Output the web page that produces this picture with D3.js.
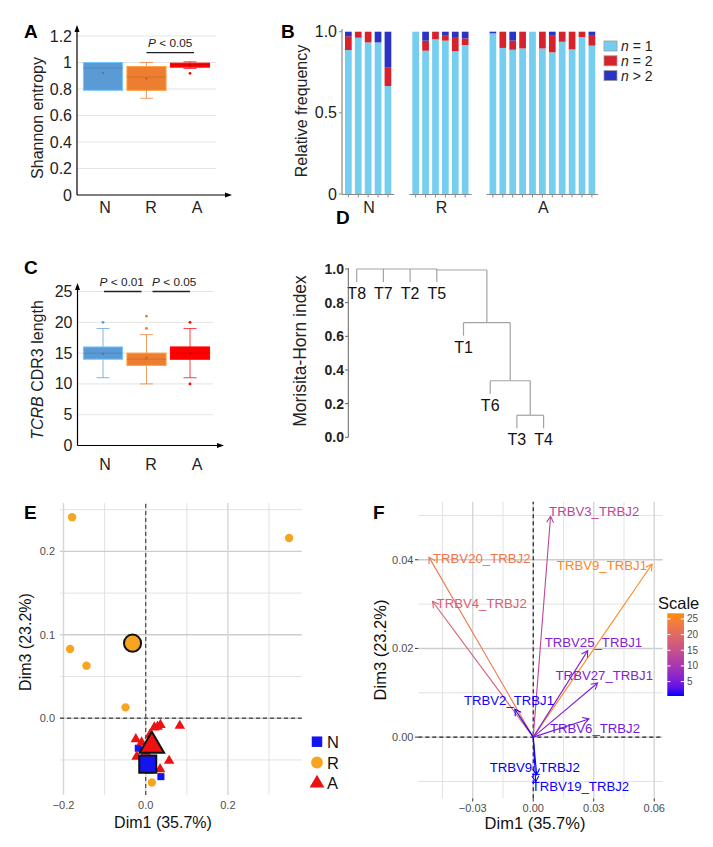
<!DOCTYPE html>
<html><head><meta charset="utf-8">
<script src="https://cdn.jsdelivr.net/npm/d3@7"></script>
<style>body{margin:0;background:#fff} svg{font-family:"Liberation Sans", Arial, Helvetica, sans-serif}</style>
</head><body><svg id="c" width="713" height="847"></svg>
<script>
// ---------------- DATA ----------------
const groups = ["N", "R", "A"];
// A: Shannon entropy (box stats)
const entropyMin = [0.79, 0.73, 0.955];
const entropyQ1 = [0.79, 0.79, 0.965];
const entropyMedian = [0.958, 0.89, 0.985];
const entropyQ3 = [1.0, 0.97, 0.995];
const entropyMax = [1.0, 1.0, 1.005];
const entropyMean = [0.92, 0.88, 0.98];
const entropyOutliers = [[], [], [0.918]];
const entropyTicks = [0, 0.2, 0.4, 0.6, 0.8, 1, 1.2];
const entropyP = ["R", "A", "P < 0.05", 1.075];

// B: relative frequency of clone sizes per sample
const freqGroup = ["N","N","N","N","N","R","R","R","R","R","R","A","A","A","A","A","A","A","A","A","A","A"];
const freqN1 = [0.887,0.963,0.934,0.934,0.665, 1.0,0.883,0.953,0.945,0.88,0.918, 0.99,0.90,0.889,0.897,1.0,0.897,0.873,0.938,0.891,0.967,0.914];
const freqN2 = [0.085,0.037,0.066,0.0,0.113, 0.0,0.062,0.047,0.03,0.082,0.041, 0.0,0.10,0.056,0.103,0.0,0.103,0.102,0.062,0.109,0.033,0.066];
const freqN3 = [0.028,0.0,0.0,0.066,0.222, 0.0,0.055,0.0,0.025,0.038,0.041, 0.01,0.0,0.055,0.0,0.0,0.0,0.025,0.0,0.0,0.0,0.02];
const freqTicks = [0, 0.5, 1.0];
const freqLegend = ["n = 1", "n = 2", "n > 2"];

// C: TCRB CDR3 length (box stats)
const cdrMin = [11, 10, 11];
const cdrQ1 = [14, 13, 14];
const cdrMedian = [15, 14, 15];
const cdrQ3 = [16, 15, 16];
const cdrMax = [19, 18, 19];
const cdrMean = [14.9, 14.2, 14.9];
const cdrOutliers = [[20], [19, 21], [10, 20]];
const cdrTicks = [0, 5, 10, 15, 20, 25];
const cdrP = [["N", "R", "P < 0.01", 25], ["R", "A", "P < 0.05", 25]];

// D: dendrogram (Morisita-Horn)
const leaves = ["T8", "T7", "T2", "T5", "T1", "T6", "T3", "T4"];
const merges = [
  { id: "c1", children: ["T8", "T7", "T2", "T5"], height: 1.0 },
  { id: "c2", children: ["T3", "T4"], height: 0.131 },
  { id: "c3", children: ["T6", "c2"], height: 0.336 },
  { id: "c4", children: ["T1", "c3"], height: 0.681 },
  { id: "root", children: ["c1", "c4"], height: 0.994 }
];
const mhTicks = [0, 0.2, 0.4, 0.6, 0.8, 1.0];

// E: PCoA sample coordinates (Dim1, Dim3)
const pcoaN = [[-0.018, -0.036], [0.037, -0.070], [0.0, -0.055], [0.01, -0.062], [-0.004, -0.052]];
const pcoaR = [[-0.179, 0.241], [0.349, 0.216], [-0.184, 0.083], [-0.144, 0.063], [-0.049, 0.013], [0.015, -0.077]];
const pcoaA = [[0.021, -0.011], [0.029, -0.010], [0.036, -0.008], [0.083, -0.009], [-0.024, -0.025], [-0.010, -0.029],
               [-0.022, -0.046], [0.057, -0.051], [0.035, -0.061], [0.010, -0.020], [0.0, -0.040]];
const pcoaCentroids = [["N", 0.005, -0.055], ["R", -0.032, 0.090], ["A", 0.015, -0.033]];
const eXTicks = [-0.2, 0.0, 0.2];
const eYTicks = [0.0, 0.1, 0.2];

// F: variable loadings
const genes = ["TRBV3_TRBJ2", "TRBV20_TRBJ2", "TRBV9_TRBJ1", "TRBV4_TRBJ2", "TRBV25_TRBJ1", "TRBV27_TRBJ1",
               "TRBV2_TRBJ1", "TRBV6_TRBJ2", "TRBV9_TRBJ2", "TRBV19_TRBJ2"];
const geneDim1 = [0.0086, -0.0517, 0.0589, -0.0499, 0.0270, 0.0319, -0.0091, 0.0276, 0.0017, 0.0012];
const geneDim3 = [0.0498, 0.0406, 0.0390, 0.0306, 0.0195, 0.0122, 0.0063, 0.0041, -0.0085, -0.0101];
const geneScale = [13, 22.5, 26, 18, 6, 6, 0.6, 4.5, 0.4, 0.5];
const fXTicks = [-0.03, 0.0, 0.03, 0.06];
const fYTicks = [0.0, 0.02, 0.04];
const scaleTicks = [5, 10, 15, 20, 25];

// ---------------- DRAWING ----------------
const svg = d3.select("#c");
const groupColors = { N: "#5b9bd5", R: "#ed7d31", A: "#ff0000" };

function panelLabel(t, x, y) {
  svg.append("text").attr("x", x).attr("y", y).attr("font-size", 19).attr("font-weight", "bold").text(t);
}
function italicFirst(sel, first, rest) {
  sel.append("tspan").attr("font-style", "italic").text(first);
  sel.append("tspan").text(rest);
}
function triangleHead(g, x, y, dir, color) {
  const s = 4;
  let p;
  if (dir === "up") p = [[x, y - 2], [x - s / 1.6, y + s + 1], [x + s / 1.6, y + s + 1]];
  else p = [[x + 2, y], [x - s - 1, y - s / 1.6], [x - s - 1, y + s / 1.6]];
  g.append("path").attr("d", d3.line()(p) + "Z").attr("fill", color);
}

// generic box plot panel
function boxPanel(opts) {
  const g = svg.append("g");
  const y = d3.scaleLinear().domain(opts.domain).range(opts.yRange);
  const x = d3.scaleBand().domain(groups).range([81.25, 211.75]);
  const xl = d3.scalePoint().domain(groups).range([105, 197]);
  const bw = x.bandwidth() * 0.9;
  g.selectAll(".grid").data(opts.ticks.filter(d => d > 0)).join("line")
    .attr("x1", opts.axisX).attr("x2", opts.gridEnd).attr("y1", d => y(d)).attr("y2", d => y(d))
    .attr("stroke", "#e4e4e4").attr("stroke-width", 1);
  groups.forEach((k, i) => {
    const c = groupColors[k];
    const cx = x(k) + x.bandwidth() / 2;
    const light = d3.color(c).copy({ opacity: 0.75 });
    [[opts.q3[i], opts.max[i]], [opts.q1[i], opts.min[i]]].forEach(([a, b]) => {
      if (Math.abs(a - b) < 1e-9) return;
      g.append("line").attr("x1", cx).attr("x2", cx).attr("y1", y(a)).attr("y2", y(b))
        .attr("stroke", light).attr("stroke-width", 1);
      g.append("line").attr("x1", cx - 6.5).attr("x2", cx + 6.5).attr("y1", y(b)).attr("y2", y(b))
        .attr("stroke", light).attr("stroke-width", 1);
    });
    g.append("rect").attr("x", cx - bw / 2).attr("width", bw)
      .attr("y", y(opts.q3[i])).attr("height", y(opts.q1[i]) - y(opts.q3[i]))
      .attr("fill", c).attr("stroke", d3.color(c).brighter(0.7)).attr("stroke-width", 1);
    g.append("line").attr("x1", cx - bw / 2).attr("x2", cx + bw / 2)
      .attr("y1", y(opts.median[i])).attr("y2", y(opts.median[i]))
      .attr("stroke", d3.color(c).darker(0.5)).attr("stroke-width", 0.8).attr("opacity", 0.8);
    g.append("circle").attr("cx", cx).attr("cy", y(opts.mean[i])).attr("r", 1.2)
      .attr("fill", d3.color(c).darker(0.6));
    opts.outliers[i].forEach(v => {
      g.append("circle").attr("cx", cx).attr("cy", y(v)).attr("r", 1.4).attr("fill", c);
    });
  });
  g.append("line").attr("x1", opts.axisX).attr("x2", opts.axisX).attr("y1", opts.yRange[0]).attr("y2", opts.yTop)
    .attr("stroke", "#000").attr("stroke-width", 1.2);
  triangleHead(g, opts.axisX, opts.yTop, "up", "#000");
  g.append("line").attr("x1", opts.axisX).attr("x2", opts.xEnd).attr("y1", opts.yRange[0]).attr("y2", opts.yRange[0])
    .attr("stroke", "#000").attr("stroke-width", 1.2);
  triangleHead(g, opts.xEnd, opts.yRange[0], "right", "#000");
  g.selectAll(".tl").data(opts.ticks).join("text")
    .attr("x", opts.axisX - 5).attr("y", d => y(d) + 5.5).attr("text-anchor", "end")
    .attr("font-size", 16).attr("fill", "#222").text(d => d3.format("~g")(d));
  g.selectAll(".xl").data(groups).join("text")
    .attr("x", d => xl(d)).attr("y", opts.xLabelY).attr("text-anchor", "middle")
    .attr("font-size", 16).attr("fill", "#222").text(d => d);
  opts.pvals.forEach(([a, b, txt, v], j) => {
    const ins = opts.pInset[j];
    const x1 = x(a) + x.bandwidth() / 2 + ins[0], x2 = x(b) + x.bandwidth() / 2 + ins[1];
    g.append("line").attr("x1", x1).attr("x2", x2).attr("y1", y(v)).attr("y2", y(v))
      .attr("stroke", "#222").attr("stroke-width", 1.3);
    const t = g.append("text").attr("x", (x1 + x2) / 2 + ins[2]).attr("y", y(v) - 6).attr("text-anchor", "middle")
      .attr("font-size", 11.8).attr("fill", "#222");
    italicFirst(t, "P", " < " + txt.split("< ")[1]);
  });
  return g;
}

// ---- Panel A ----
panelLabel("A", 24, 38);
boxPanel({
  domain: [0, 1.2], yRange: [195, 36], yTop: 27, axisX: 77, gridEnd: 216, xEnd: 230, xLabelY: 213,
  ticks: entropyTicks, min: entropyMin, q1: entropyQ1, median: entropyMedian, q3: entropyQ3, max: entropyMax,
  mean: entropyMean, outliers: entropyOutliers, pvals: [entropyP], pInset: [[0, 4, 0]]
});
svg.append("text").attr("transform", "translate(43,118) rotate(-90)").attr("text-anchor", "middle")
  .attr("font-size", 16).attr("fill", "#222").text("Shannon entropy");

// ---- Panel C ----
panelLabel("C", 24, 274);
boxPanel({
  domain: [0, 25], yRange: [445.5, 291.5], yTop: 285, axisX: 77.5, gridEnd: 213, xEnd: 222, xLabelY: 470,
  ticks: cdrTicks, min: cdrMin, q1: cdrQ1, median: cdrMedian, q3: cdrQ3, max: cdrMax,
  mean: cdrMean, outliers: cdrOutliers, pvals: cdrP, pInset: [[1, -5, -1], [6, 0, 3]]
});
{
  const t = svg.append("text").attr("transform", "translate(43,370) rotate(-90)").attr("text-anchor", "middle")
    .attr("font-size", 16).attr("fill", "#222");
  italicFirst(t, "TCRB", " CDR3 length");
}

// ---- Panel B ----
panelLabel("B", 281, 38);
{
  const g = svg.append("g");
  const y = d3.scaleLinear().domain([0, 1]).range([194, 31.7]);
  const gap = 1.8;
  const slots = [];
  let s = 0;
  freqGroup.forEach((gr, i) => {
    if (i > 0 && gr !== freqGroup[i - 1]) s += gap;
    slots.push(s);
    s += 1;
  });
  const x = d3.scaleLinear().domain([0, 1]).range([345, 354.9]);
  const bw = 6.7;
  const cols = ["#75cdf0", "#d7212b", "#2b33c6"];
  const stacks = freqN1.map((v, i) => [freqN1[i], freqN2[i], freqN3[i]]);
  stacks.forEach((vals, i) => {
    let base = 0;
    vals.forEach((v, j) => {
      if (v > 0) {
        g.append("rect").attr("x", x(slots[i])).attr("width", bw)
          .attr("y", y(base + v)).attr("height", y(base) - y(base + v))
          .attr("fill", cols[j]);
      }
      base += v;
    });
  });
  g.append("line").attr("x1", 342).attr("x2", 342).attr("y1", 194).attr("y2", 29).attr("stroke", "#8a8a8a").attr("stroke-width", 1.2);
  g.selectAll(".yt").data(freqTicks).join("line").attr("x1", 339).attr("x2", 342)
    .attr("y1", d => y(d)).attr("y2", d => y(d)).attr("stroke", "#8a8a8a");
  g.selectAll(".yl").data(freqTicks).join("text").attr("x", 337).attr("y", d => y(d) + 5.5)
    .attr("text-anchor", "end").attr("font-size", 16).attr("fill", "#222")
    .text(d => d === 0 ? "0" : d3.format(".1f")(d));
  groups.forEach(gr => {
    const idx = freqGroup.map((d, i) => d === gr ? i : -1).filter(i => i >= 0);
    const x0 = x(slots[idx[0]]) - 3, x1 = x(slots[idx[idx.length - 1]]) + bw + 3;
    g.append("line").attr("x1", gr === "N" ? 342 : x0).attr("x2", x1).attr("y1", 194.5).attr("y2", 194.5)
      .attr("stroke", "#8a8a8a").attr("stroke-width", 1.2);
    idx.forEach(i => {
      g.append("line").attr("x1", x(slots[i]) + bw / 2).attr("x2", x(slots[i]) + bw / 2)
        .attr("y1", 194.5).attr("y2", 197.5).attr("stroke", "#8a8a8a");
    });
    g.append("text").attr("x", (x0 + x1) / 2 + 1).attr("y", 213).attr("text-anchor", "middle")
      .attr("font-size", 16).attr("fill", "#222").text(gr);
  });
  svg.append("text").attr("transform", "translate(307,111) rotate(-90)").attr("text-anchor", "middle")
    .attr("font-size", 16).attr("fill", "#222").text("Relative frequency");
  freqLegend.forEach((t, i) => {
    const cy = 46 + i * 14.8;
    g.append("rect").attr("x", 604).attr("y", cy - 5).attr("width", 13).attr("height", 10)
      .attr("fill", cols[i]).attr("stroke", "#9a9a9a").attr("stroke-width", 0.8);
    const tx = g.append("text").attr("x", 621).attr("y", cy + 5).attr("font-size", 14).attr("fill", "#222");
    italicFirst(tx, t[0], t.slice(1));
  });
}

// ---- Panel D ----
panelLabel("D", 336, 224);
{
  const g = svg.append("g");
  const y = d3.scaleLinear().domain([0, 1]).range([437.3, 269]);
  const x = d3.scalePoint().domain(leaves).range([356.7, 543.6]);
  const lc = "#a3a3a3";
  const node = {};
  leaves.forEach(l => node[l] = { x: x(l), leaf: true });
  merges.forEach(m => {
    const xs = m.children.map(c => node[c].x);
    const nx = m.children.length > 2 ? xs[xs.length - 1] : (xs[0] + xs[xs.length - 1]) / 2;
    node[m.id] = { x: nx, h: m.height };
    g.append("line").attr("x1", d3.min(xs)).attr("x2", d3.max(xs)).attr("y1", y(m.height)).attr("y2", y(m.height))
      .attr("stroke", lc).attr("stroke-width", 1.2);
    m.children.forEach(c => {
      const ch = node[c];
      const bottom = ch.leaf ? y(m.height) + 13 : y(ch.h);
      g.append("line").attr("x1", ch.x).attr("x2", ch.x).attr("y1", y(m.height)).attr("y2", bottom)
        .attr("stroke", lc).attr("stroke-width", 1.2);
      if (ch.leaf) {
        g.append("text").attr("x", ch.x).attr("y", bottom + 17).attr("text-anchor", "middle")
          .attr("font-size", 16).attr("fill", "#111").text(c);
      }
    });
  });
  g.append("line").attr("x1", 348.3).attr("x2", 348.3).attr("y1", y(0)).attr("y2", y(1) - 1)
    .attr("stroke", "#666").attr("stroke-width", 1);
  g.selectAll(".t").data(mhTicks).join("line").attr("x1", 345).attr("x2", 348.3)
    .attr("y1", d => y(d)).attr("y2", d => y(d)).attr("stroke", "#666");
  g.selectAll(".tl").data(mhTicks).join("text").attr("x", 344).attr("y", d => y(d) + 5)
    .attr("text-anchor", "end").attr("font-size", 14).attr("font-weight", "bold").attr("fill", "#222")
    .text(d => d3.format(".1f")(d));
  svg.append("text").attr("transform", "translate(306,351) rotate(-90)").attr("text-anchor", "middle")
    .attr("font-size", 17.5).attr("fill", "#222").text("Morisita-Horn index");
}

function ggGrid(g, x, y, xMaj, xMin, yMaj, yMin) {
  const [x0, x1] = x.range(), [y0, y1] = y.range();
  yMin.forEach(v => g.append("line").attr("x1", x0).attr("x2", x1).attr("y1", y(v)).attr("y2", y(v)).attr("stroke", "#e2e2e2").attr("stroke-width", 1));
  xMin.forEach(v => g.append("line").attr("x1", x(v)).attr("x2", x(v)).attr("y1", y0).attr("y2", y1).attr("stroke", "#e2e2e2").attr("stroke-width", 1));
  yMaj.forEach(v => g.append("line").attr("x1", x0).attr("x2", x1).attr("y1", y(v)).attr("y2", y(v)).attr("stroke", "#cdcdcd").attr("stroke-width", 1.4));
  xMaj.forEach(v => g.append("line").attr("x1", x(v)).attr("x2", x(v)).attr("y1", y0).attr("y2", y1).attr("stroke", "#d6d6d6").attr("stroke-width", 1.4));
}
const minusFmt = f => v => d3.format(f)(v).replace("-", "\u2212");

// ---- Panel E ----
panelLabel("E", 24, 519);
{
  const g = svg.append("g");
  const x = d3.scaleLinear().domain([-0.2085, 0.3796]).range([60, 301.7]);
  const y = d3.scaleLinear().domain([-0.092, 0.258]).range([795, 503]);
  ggGrid(g, x, y, eXTicks, [-0.1, 0.1, 0.3], eYTicks, [-0.05, 0.05, 0.15, 0.25]);
  g.append("line").attr("x1", x(0)).attr("x2", x(0)).attr("y1", 795).attr("y2", 503).attr("stroke", "#555").attr("stroke-width", 1.3).attr("stroke-dasharray", "4,3");
  g.append("line").attr("x1", 60).attr("x2", 301.7).attr("y1", y(0)).attr("y2", y(0)).attr("stroke", "#555").attr("stroke-width", 1.3).attr("stroke-dasharray", "4,3");
  const eCol = { N: "#1414f0", R: "#f7a520", A: "#ee1111" };
  const shp = { N: d3.symbolSquare, R: d3.symbolCircle, A: d3.symbolTriangle };
  const small = { N: 50, R: 55, A: 48 };
  const big = { N: 290, R: 230, A: 260 };
  [["N", pcoaN], ["R", pcoaR], ["A", pcoaA]].forEach(([k, pts]) => {
    g.selectAll(null).data(pts).join("path")
      .attr("transform", d => `translate(${x(d[0])},${y(d[1])})`)
      .attr("d", d3.symbol().type(shp[k]).size(small[k])).attr("fill", eCol[k]);
  });
  pcoaCentroids.forEach(([k, cx, cy]) => {
    g.append("path").attr("transform", `translate(${x(cx)},${y(cy)})`)
      .attr("d", d3.symbol().type(shp[k]).size(big[k])).attr("fill", eCol[k])
      .attr("stroke", "#111").attr("stroke-width", 2);
  });
  g.selectAll(".xt").data(eXTicks).join("text").attr("x", d => x(d)).attr("y", 809)
    .attr("text-anchor", "middle").attr("font-size", 11).attr("fill", "#4d4d4d").text(minusFmt(".1f"));
  g.selectAll(".yt").data(eYTicks).join("text").attr("x", 55).attr("y", d => y(d) + 4)
    .attr("text-anchor", "end").attr("font-size", 11).attr("fill", "#4d4d4d").text(minusFmt(".1f"));
  g.append("text").attr("x", 163).attr("y", 828).attr("text-anchor", "middle").attr("font-size", 16).attr("fill", "#111").text("Dim1 (35.7%)");
  g.append("text").attr("transform", "translate(31,642) rotate(-90)").attr("text-anchor", "middle").attr("font-size", 16).attr("fill", "#111").text("Dim3 (23.2%)");
  groups.forEach((k, i) => {
    const cy = 741.7 + i * 20.8;
    g.append("path").attr("transform", `translate(317,${cy})`).attr("d", d3.symbol().type(shp[k]).size(k === "A" ? 95 : 110)).attr("fill", eCol[k]);
    g.append("text").attr("x", 327).attr("y", cy + 6).attr("font-size", 16.5).attr("fill", "#111").text(k);
  });
}

// ---- Panel F ----
panelLabel("F", 373, 519);
{
  const g = svg.append("g");
  const x = d3.scaleLinear().domain([-0.057, 0.0642]).range([418.3, 662.7]);
  const y = d3.scaleLinear().domain([-0.0138, 0.0531]).range([798.3, 501.7]);
  ggGrid(g, x, y, fXTicks, [-0.045, -0.015, 0.015, 0.045], fYTicks, [-0.01, 0.01, 0.03, 0.05]);
  g.append("line").attr("x1", x(0)).attr("x2", x(0)).attr("y1", 798.3).attr("y2", 501.7).attr("stroke", "#222").attr("stroke-width", 1.2).attr("stroke-dasharray", "4,3");
  g.append("line").attr("x1", 418.3).attr("x2", 662.7).attr("y1", y(0)).attr("y2", y(0)).attr("stroke", "#222").attr("stroke-width", 1.2).attr("stroke-dasharray", "4,3");
  const col = d3.scaleLinear().domain([0.4, 26.8]).range(["#0000ff", "#ff8c00"]).interpolate(d3.interpolateLab);
  const lab = [[-1.5, -5, "start"], [4, 1, "start"], [-5, 1, "end"], [4, 2, "start"], [-43, -8, "start"], [-42, -8, "start"],
               [-51, -9, "start"], [-39, 9, "start"], [-47, -8, "start"], [-4, 4.5, "start"]];
  genes.forEach((gn, i) => {
    const c = col(geneScale[i]);
    const x0 = x(0), y0 = y(0), x1 = x(geneDim1[i]), y1 = y(geneDim3[i]);
    g.append("line").attr("x1", x0).attr("y1", y0).attr("x2", x1).attr("y2", y1).attr("stroke", c).attr("stroke-width", 1.1);
    const a = Math.atan2(y1 - y0, x1 - x0), L = 7, w = Math.PI / 6;
    const p = [[x1 - L * Math.cos(a - w), y1 - L * Math.sin(a - w)], [x1, y1], [x1 - L * Math.cos(a + w), y1 - L * Math.sin(a + w)]];
    g.append("path").attr("d", d3.line()(p)).attr("fill", "none").attr("stroke", c).attr("stroke-width", 1.1);
  });
  genes.forEach((gn, i) => {
    const c = col(geneScale[i]);
    g.append("text").attr("x", x(geneDim1[i]) + lab[i][0]).attr("y", y(geneDim3[i]) + lab[i][1] + 4.7)
      .attr("text-anchor", lab[i][2]).attr("font-size", 13.2).attr("fill", c).text(gn);
  });
  g.selectAll(".xt").data(fXTicks).join("line").attr("x1", d => x(d)).attr("x2", d => x(d)).attr("y1", 798.3).attr("y2", 801.5).attr("stroke", "#333");
  g.selectAll(".yt").data(fYTicks).join("line").attr("x1", 415).attr("x2", 418.3).attr("y1", d => y(d)).attr("y2", d => y(d)).attr("stroke", "#333");
  g.selectAll(".xl").data(fXTicks).join("text").attr("x", d => x(d)).attr("y", 812)
    .attr("text-anchor", "middle").attr("font-size", 11).attr("fill", "#4d4d4d").text(minusFmt(".2f"));
  g.selectAll(".yl").data(fYTicks).join("text").attr("x", 413.5).attr("y", d => y(d) + 4)
    .attr("text-anchor", "end").attr("font-size", 11).attr("fill", "#4d4d4d").text(minusFmt(".2f"));
  g.append("text").attr("x", 535).attr("y", 829).attr("text-anchor", "middle").attr("font-size", 16.5).attr("fill", "#111").text("Dim1 (35.7%)");
  g.append("text").attr("transform", "translate(386,650) rotate(-90)").attr("text-anchor", "middle").attr("font-size", 16.5).attr("fill", "#111").text("Dim3 (23.2%)");
  const cb = d3.scaleLinear().domain([0.4, 26.8]).range([696, 613.3]);
  const defs = svg.append("defs");
  const lg = defs.append("linearGradient").attr("id", "cbg").attr("x1", 0).attr("x2", 0).attr("y1", 1).attr("y2", 0);
  d3.range(0, 1.0001, 0.1).forEach(t => lg.append("stop").attr("offset", t).attr("stop-color", col(0.4 + t * 26.4)));
  g.append("rect").attr("x", 667.3).attr("y", 613.3).attr("width", 16.7).attr("height", 82.7).attr("fill", "url(#cbg)");
  scaleTicks.forEach(v => {
    g.append("line").attr("x1", 667.3).attr("x2", 670.5).attr("y1", cb(v)).attr("y2", cb(v)).attr("stroke", "#fff");
    g.append("line").attr("x1", 680.8).attr("x2", 684).attr("y1", cb(v)).attr("y2", cb(v)).attr("stroke", "#fff");
    g.append("text").attr("x", 687).attr("y", cb(v) + 3.5).attr("font-size", 10).attr("fill", "#4d4d4d").text(v);
  });
  g.append("text").attr("x", 658).attr("y", 609).attr("font-size", 16.5).attr("fill", "#111").text("Scale");
}
</script></body></html>
